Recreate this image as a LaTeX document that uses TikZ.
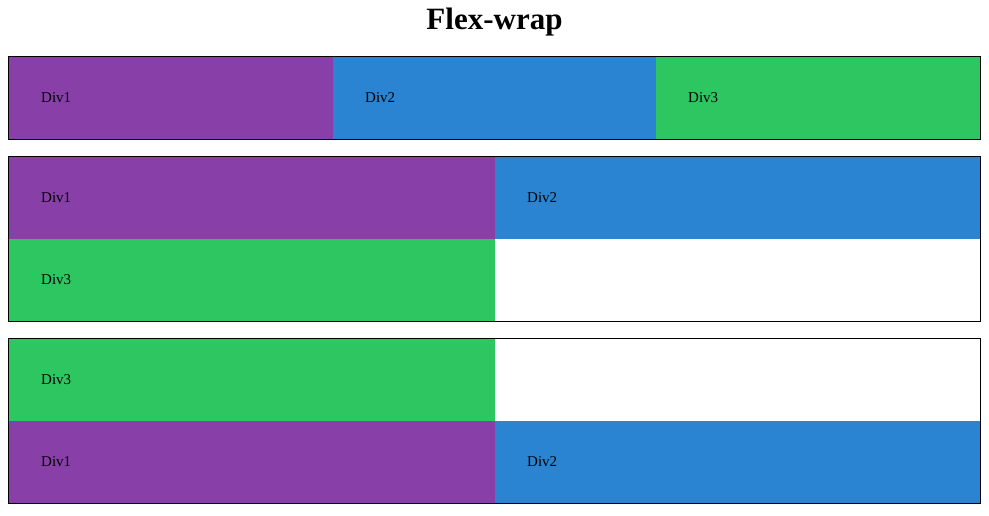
\documentclass[tikz,border=0pt]{standalone}
\usepackage{fontspec}
\setmainfont{Liberation Serif}
\definecolor{purp}{HTML}{8840A8}
\definecolor{blu}{HTML}{2B84D2}
\definecolor{grn}{HTML}{2EC660}

\begin{document}
\begin{tikzpicture}
      [x = 1pt, y = -1pt,
      divtext/.style= {
         anchor = west,
         inner sep = 0pt,
         font = \fontsize{15}{18}\selectfont
      },
      frame/.style= {draw = black, line width = 0.8pt}]

      \useasboundingbox (0, 0) rectangle (989, 516);
      \node[font = \fontsize{31}{36}\selectfont\bfseries] (title) at (494.5, 22) {Flex-wrap};

      % first row
      \fill[purp] (8, 56) rectangle (333, 139);
      \fill[blu] (333, 56) rectangle (656, 139);
      \fill[grn] (656, 56) rectangle (980, 139);
      \draw[frame] (8, 56) rectangle (980, 139);
      \node[divtext] (a1) at (41, 97.5) {Div1};
      \node[divtext] (a2) at (365, 97.5) {Div2};
      \node[divtext] (a3) at (688, 97.5) {Div3};

      % second row
      \fill[purp] (8, 156) rectangle (495, 239);
      \fill[blu] (495, 156) rectangle (980, 239);
      \fill[grn] (8, 239) rectangle (495, 321);
      \draw[frame] (8, 156) rectangle (980, 321);
      \node[divtext] (b1) at (41, 197.5) {Div1};
      \node[divtext] (b2) at (527, 197.5) {Div2};
      \node[divtext] (b3) at (41, 279.5) {Div3};

      % third row
      \fill[grn] (8, 338) rectangle (495, 421);
      \fill[purp] (8, 421) rectangle (495, 503);
      \fill[blu] (495, 421) rectangle (980, 503);
      \draw[frame] (8, 338) rectangle (980, 503);
      \node[divtext] (c3) at (41, 379.5) {Div3};
      \node[divtext] (c1) at (41, 461.5) {Div1};
      \node[divtext] (c2) at (527, 461.5) {Div2};

   \end{tikzpicture}
\end{document}
